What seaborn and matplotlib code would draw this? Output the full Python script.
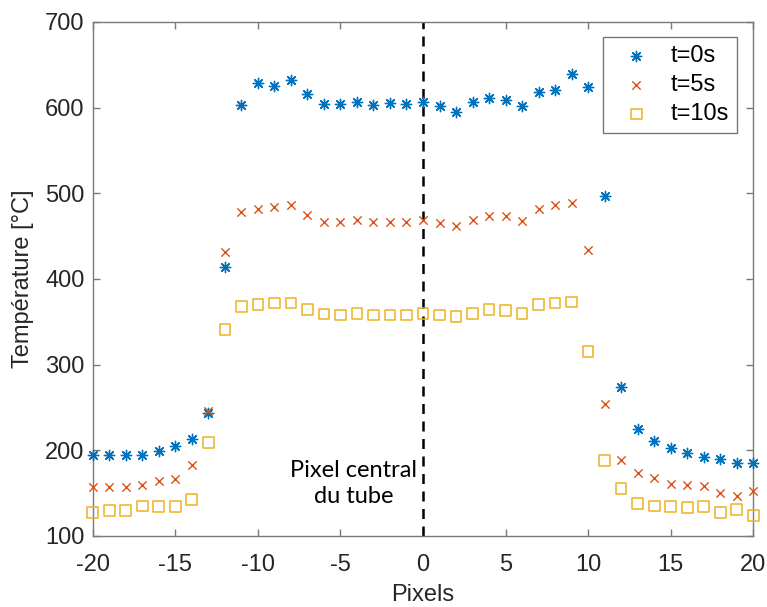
import matplotlib
matplotlib.use("Agg")
import matplotlib.pyplot as plt
import numpy as np
import seaborn as sns

# pixel offset from the tube centre
pixels = np.arange(-20, 21)

temp_t0 = [194, 195, 195, 195, 199, 205, 213, 243, 414, 603,
           629, 625, 632, 616, 604, 604, 607, 603, 605, 604,
           607, 602, 595, 606, 611, 609, 602, 618, 621, 639,
           624, 497, 274, 225, 211, 203, 197, 192, 190, 185, 185]
temp_t5 = [157, 157, 157, 160, 164, 167, 183, 246, 431, 478,
           482, 484, 486, 475, 467, 466, 469, 466, 467, 467,
           469, 465, 462, 469, 474, 473, 468, 482, 486, 489,
           434, 254, 189, 173, 168, 161, 159, 158, 150, 147, 153]
temp_t10 = [127, 130, 130, 135, 134, 134, 143, 209, 341, 368,
            370, 372, 372, 364, 359, 358, 360, 358, 358, 358,
            360, 358, 356, 360, 364, 363, 360, 370, 372, 373,
            315, 188, 155, 138, 135, 134, 133, 134, 127, 131, 124]

series_labels = ["t=0s", "t=5s", "t=10s"]
series_colors = ["#0072BD", "#D95319", "#EDB120"]

sns.set_theme(style="white")
plt.rcParams["font.family"] = ["Liberation Sans", "DejaVu Sans"]
plt.rcParams["axes.unicode_minus"] = False
axis_grey = "#7a7a7a"
text_grey = "#262626"

fig = plt.figure(figsize=(7.67, 6.07), dpi=100)
ax = fig.add_axes([0.121, 0.117, 0.861, 0.847])

sns.scatterplot(x=pixels, y=temp_t0, ax=ax, marker=(8, 2, 0), s=55,
                color=series_colors[0], linewidth=1.0, label=series_labels[0],
                clip_on=False, zorder=3)
sns.scatterplot(x=pixels, y=temp_t5, ax=ax, marker="x", s=36,
                color=series_colors[1], linewidth=1.0, label=series_labels[1],
                clip_on=False, zorder=3)
sns.scatterplot(x=pixels, y=temp_t10, ax=ax, marker="s", s=60,
                color=series_colors[2], facecolors="none", edgecolor=series_colors[2],
                linewidth=1.1, label=series_labels[2], clip_on=False, zorder=3)

ax.axvline(0, color="black", linestyle=(0, (4, 3)), linewidth=1.8, zorder=2)
ax.text(-4.2, 161, "Pixel central\ndu tube", ha="center", va="center",
        fontsize=17, family=["Lato", "DejaVu Sans"], color="black",
        linespacing=1.3)

ax.set_xlim(-20, 20)
ax.set_ylim(100, 700)
ax.set_xticks(np.arange(-20, 21, 5))
ax.set_yticks(np.arange(100, 701, 100))
ax.set_xlabel("Pixels", fontsize=17, color=text_grey, labelpad=6)
ax.set_ylabel("Température [°C]", fontsize=17, color=text_grey, labelpad=8)
ax.tick_params(axis="both", direction="in", length=5, width=1, color=axis_grey,
               labelsize=17, labelcolor=text_grey, top=True, right=True,
               bottom=True, left=True)
ax.tick_params(axis="x", pad=13)
ax.tick_params(axis="y", pad=6)
for spine in ax.spines.values():
    spine.set_visible(True)
    spine.set_color(axis_grey)
    spine.set_linewidth(1.0)

leg = ax.legend(loc="upper right", bbox_to_anchor=(0.976, 0.971), fontsize=17,
                frameon=True, fancybox=False, edgecolor="#555555",
                handletextpad=0.4, labelspacing=0.3, borderpad=0.35,
                handlelength=2.1, borderaxespad=0)
leg.get_frame().set_linewidth(1.0)
for txt in leg.get_texts():
    txt.set_color("black")

fig.savefig("out.png", dpi=100)
